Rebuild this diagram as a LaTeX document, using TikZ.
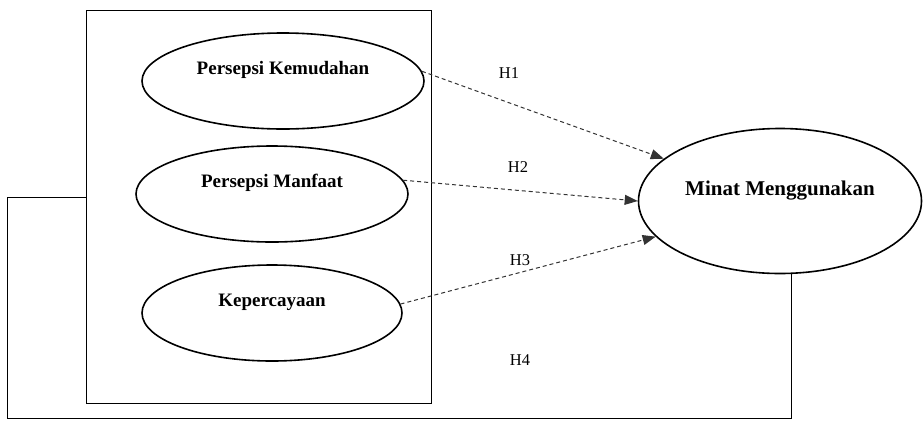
\documentclass[tikz,border=0pt]{standalone}
\usepackage{fontspec}
\setmainfont{Liberation Serif}
\usetikzlibrary{shapes.geometric,arrows.meta}

\begin{document}
\begin{tikzpicture}[x=1pt,y=-1pt,
		variabel/.style={ellipse,draw,line width=1.6pt,text height=13pt,text depth=27pt,
			font=\fontsize{19}{22}\selectfont\bfseries},
		hipotesis/.style={draw=black!80,line width=1pt,dash pattern=on 4pt off 3pt,
			-{Triangle[length=13pt,width=10pt]}},
		garis/.style={line width=1pt},
		teks/.style={font=\fontsize{16.5}{19}\selectfont}]
		\useasboundingbox (0,0) rectangle (923,421);
		\node[draw,garis,minimum width=345pt,minimum height=393pt] (grup) at (258.5,206.5) {};
		\node[variabel,minimum width=282pt,minimum height=96pt] (kemudahan) at (283,81) {Persepsi Kemudahan};
		\node[variabel,minimum width=272pt,minimum height=96pt] (manfaat) at (272,194) {Persepsi Manfaat};
		\node[variabel,minimum width=260pt,minimum height=96pt] (kepercayaan) at (272,313) {Kepercayaan};
		\node[variabel,minimum width=283pt,minimum height=145pt,text depth=25pt,
			font=\fontsize{21}{24}\selectfont\bfseries] (minat) at (780,201) {Minat Menggunakan};
		\draw[hipotesis] (kemudahan.4) -- (minat.160);
		\draw[hipotesis] (manfaat.6) -- (minat.west);
		\draw[hipotesis] (kepercayaan.4) -- (minat.196);
		\node[teks] (h1) at (509,73) {H1};
		\node[teks] (h2) at (518,167) {H2};
		\node[teks] (h3) at (520,260) {H3};
		\node[teks] (h4) at (520,360) {H4};
		\coordinate (sudut) at (7,418);
		\coordinate (ujung) at (791,418);
		\draw[garis] ([yshift=9.5pt]grup.west) -| (sudut) -- (ujung) -- (ujung |- minat.south);
	\end{tikzpicture}
\end{document}
